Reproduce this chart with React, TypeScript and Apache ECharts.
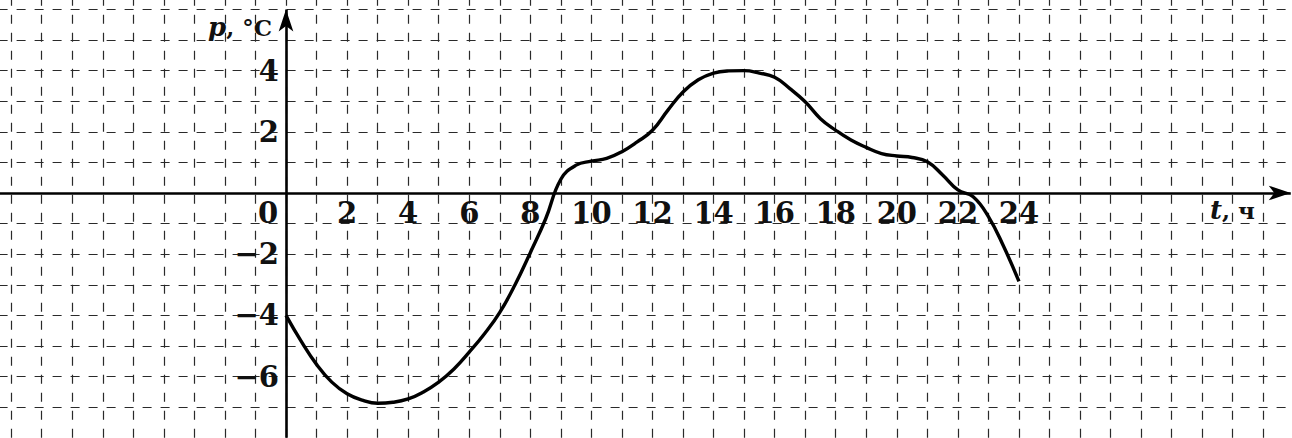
import React, { useEffect, useRef } from "react";
import * as echarts from "echarts";

// Time, hours
const hours = [0, 0.5, 1, 1.5, 2, 2.5, 3, 3.5, 4, 4.5, 5, 5.5, 6, 6.5, 7, 7.5, 8, 8.5, 9, 9.5, 10, 10.5, 11, 11.5, 12, 12.5, 13, 13.5, 14, 14.5, 15, 15.5, 16, 16.5, 17, 17.5, 18, 18.5, 19, 19.5, 20, 20.5, 21, 21.5, 22, 22.5, 23, 23.5, 24];
// Temperature, °C
const temps = [-4.0, -4.85, -5.6, -6.18, -6.56, -6.77, -6.87, -6.84, -6.73, -6.5, -6.18, -5.75, -5.2, -4.6, -3.9, -3.0, -1.95, -0.85, 0.45, 0.91, 1.04, 1.13, 1.35, 1.67, 2.05, 2.7, 3.3, 3.7, 3.92, 3.99, 4.0, 3.92, 3.78, 3.41, 2.98, 2.43, 2.05, 1.73, 1.49, 1.29, 1.21, 1.16, 1.02, 0.59, 0.1, -0.12, -0.77, -1.75, -2.89];

const xTickLabels = [0, 2, 4, 6, 8, 10, 12, 14, 16, 18, 20, 22, 24];
const yTickLabels = [4, 2, -2, -4, -6];

const X_MIN = -10;
const X_MAX = 33;
const Y_MIN = -8;
const Y_MAX = 7;
const X_ARROW_END = 32.9;
const Y_ARROW_END = 6.0;

const FONT = "DejaVu Serif";

export default function App() {
  const ref = useRef<HTMLDivElement>(null);

  useEffect(() => {
    if (!ref.current) return;
    const chart = echarts.init(ref.current, null, { renderer: "svg" });
    const sx = 30.54;
    const sy = 30.6;
    const ox = 286;
    const oy = 193;
    const left = ox + X_MIN * sx;
    const rightEdge = ox + X_MAX * sx;
    const top = oy - Y_MAX * sy;
    const bottomEdge = oy - Y_MIN * sy;

    const gridLine = {
      show: true,
      lineStyle: { color: "#2a2a2a", width: 1.2, type: [9, 9] as any },
    };
    const labelFont = {
      fontFamily: FONT,
      fontWeight: "bold" as const,
      fontSize: 29,
      color: "#111",
    };

    chart.setOption({
      animation: false,
      backgroundColor: "#ffffff",
      grid: [
        // main plotting grid
        { left, top, width: rightEdge - left, height: bottomEdge - top, containLabel: false, outerBoundsMode: "none" },
        // grid whose bottom edge is the t axis, for t tick labels
        { left, top, width: rightEdge - left, height: oy - top, containLabel: false, outerBoundsMode: "none" },
        // grid whose left edge is the p axis, for p tick labels
        { left: ox, top, width: rightEdge - ox, height: bottomEdge - top, containLabel: false, outerBoundsMode: "none" },
      ],
      xAxis: [
        {
          gridIndex: 0,
          type: "value",
          min: X_MIN,
          max: X_MAX,
          interval: 1,
          axisLine: { show: false },
          axisTick: { show: false },
          axisLabel: { show: false },
          splitLine: gridLine,
        },
        {
          gridIndex: 1,
          type: "value",
          position: "bottom",
          min: X_MIN,
          max: X_MAX,
          interval: 1,
          axisLine: { show: false },
          axisTick: { show: false },
          splitLine: { show: false },
          axisLabel: {
            show: true,
            margin: 5,
            ...labelFont,
            formatter: (v: number) => {
              if (!xTickLabels.includes(v)) return "";
              if (v === 0) return "{o|0}";
              return String(v);
            },
            rich: {
              o: { ...labelFont, padding: [0, 36, 0, 0] },
            },
          },
        },
        {
          gridIndex: 2,
          type: "value",
          min: 0,
          max: X_MAX,
          show: false,
        },
      ],
      yAxis: [
        {
          gridIndex: 0,
          type: "value",
          min: Y_MIN,
          max: Y_MAX,
          interval: 1,
          axisLine: { show: false },
          axisTick: { show: false },
          axisLabel: { show: false },
          splitLine: gridLine,
        },
        {
          gridIndex: 1,
          type: "value",
          min: 0,
          max: Y_MAX,
          show: false,
        },
        {
          gridIndex: 2,
          type: "value",
          position: "left",
          min: Y_MIN,
          max: Y_MAX,
          interval: 1,
          axisLine: { show: false },
          axisTick: { show: false },
          splitLine: { show: false },
          axisLabel: {
            show: true,
            margin: 7,
            ...labelFont,
            formatter: (v: number) => {
              if (!yTickLabels.includes(v)) return "";
              return v < 0 ? "\u2212" + Math.abs(v) : String(v);
            },
          },
        },
      ],
      series: [
        {
          type: "line",
          xAxisIndex: 0,
          yAxisIndex: 0,
          data: hours.map((h, i) => [h, temps[i]]),
          smooth: 0.45,
          showSymbol: false,
          symbol: "none",
          lineStyle: { color: "#000", width: 3.4 },
          z: 5,
          markLine: {
            silent: true,
            symbol: ["none", "arrow"],
            symbolSize: [11, 22],
            label: { show: false },
            lineStyle: { color: "#000", width: 2.6, type: "solid" },
            emphasis: { disabled: true },
            data: [
              [{ coord: [X_MIN, 0] }, { coord: [X_ARROW_END, 0] }],
              [{ coord: [0, Y_MIN] }, { coord: [0, Y_ARROW_END] }],
            ],
          },
        },
      ],
      graphic: [
        {
          type: "text",
          left: 208,
          top: 14,
          style: {
            text: "{i|p}{n|, °C}",
            rich: {
              i: { fontFamily: FONT, fontStyle: "italic", fontWeight: "bold", fontSize: 26, fill: "#111" },
              n: { fontFamily: FONT, fontWeight: "bold", fontSize: 23, fill: "#111" },
            },
          },
        },
        {
          type: "text",
          left: 1210,
          top: 197,
          style: {
            text: "{i|t}{n|, ч}",
            rich: {
              i: { fontFamily: FONT, fontStyle: "italic", fontWeight: "bold", fontSize: 26, fill: "#111" },
              n: { fontFamily: FONT, fontWeight: "bold", fontSize: 23, fill: "#111" },
            },
          },
        },
      ],
    });
    return () => chart.dispose();
  }, []);

  return (
    <div
      ref={ref}
      style={{ position: "fixed", left: 0, top: 0, width: 1292, height: 438, background: "#fff" }}
    />
  );
}
